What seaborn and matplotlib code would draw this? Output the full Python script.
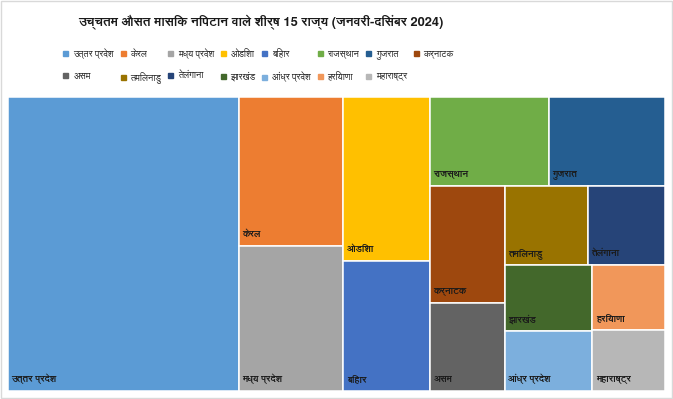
import matplotlib
matplotlib.use("Agg")
import matplotlib.pyplot as plt
import matplotlib.font_manager as fm
from matplotlib.ft2font import FT2Font
from matplotlib.patches import Rectangle
from matplotlib.lines import Line2D
import seaborn as sns

# ---- data ----
states = ['उत्तर प्रदेश', 'केरल', 'मध्य प्रदेश', 'ओडिशा', 'बिहार', 'राजस्थान', 'गुजरात',
          'कर्नाटक', 'असम', 'तमिलनाडु', 'तेलंगाना', 'झारखंड', 'आंध्र प्रदेश', 'हरियाणा', 'महाराष्ट्र']
disposal = [677.8, 155.0, 150.8, 142.1, 112.6, 105.3, 103.2,
            87.5, 66.0, 65.6, 61.3, 57.5, 51.9, 47.0, 44.3]
colors = ['#5B9BD5', '#ED7D31', '#A5A5A5', '#FFC000', '#4472C4', '#70AD47', '#255E91',
          '#9E480E', '#636363', '#997300', '#264478', '#43682B', '#7CAFDD', '#F1975A', '#B7B7B7']
title = 'उच्चतम औसत मासिक निपटान वाले शीर्ष 15 राज्य (जनवरी-दिसंबर 2024)'

# how many tiles go into each strip of the treemap
strip_sizes = [1, 2, 2, 2, 2, 2, 2, 1, 1]


def find_devanagari_fonts():
    found = []
    for f in fm.fontManager.ttflist:
        if f.name in found:
            continue
        try:
            cmap = FT2Font(f.fname).get_charmap()
        except Exception:
            continue
        if 0x0915 in cmap:
            found.append(f.name)
    return found


sns.set_theme(style="white")
deva = find_devanagari_fonts()
pick = [n for n in ['FreeSans', 'Akshar', 'FreeSerif'] if n in deva] or deva[:1]
plt.rcParams['font.family'] = pick[:1] + ['DejaVu Sans']


def layout(values, x, y, w, h, sizes):
    # strips go along the shorter side of what is left
    scale = w * h / sum(values)
    rects = []
    i = 0
    for n in sizes:
        group = values[i:i + n]
        area = sum(group) * scale
        if w >= h:
            sw = area / h
            yy = y
            for v in group:
                hh = v * scale / sw
                rects.append((x, yy, sw, hh))
                yy += hh
            x += sw
            w -= sw
        else:
            sh = area / w
            xx = x
            for v in group:
                ww = v * scale / sh
                rects.append((xx, y, ww, sh))
                xx += ww
            y += sh
            h -= sh
        i += n
    return rects


fig = plt.figure(figsize=(6.73, 3.99), dpi=100)
ax = fig.add_axes([8 / 673, (399 - 390.7) / 399, 657 / 673, 293.4 / 399])
W, H = 657.0, 293.4
ax.set_xlim(0, W)
ax.set_ylim(H, 0)
ax.axis('off')

rects = layout(disposal, 0, 0, W, H, strip_sizes)
for (x, y, w, h), name, c in zip(rects, states, colors):
    ax.bar(x, h, width=w, bottom=y, align='edge', color=c, edgecolor='white', linewidth=1.1)
    ax.text(x + 3.5, y + h - 11.5, name, fontsize=6.8, fontweight='bold', color='#1a1a1a',
            va='center', ha='left')

fig.text(261 / 673, 1 - 22 / 399, title, fontsize=9.3, fontweight='bold', ha='center', va='center',
         color='#1a1a1a')

# legend fills column by column, so interleave to read row by row
ncol = 8
order = [j + r * ncol for j in range(ncol) for r in range(2) if j + r * ncol < len(states)]
handles = [Line2D([], [], marker='s', linestyle='', markersize=3.6, color=colors[k]) for k in order]
fig.legend(handles, [states[k] for k in order], ncol=ncol, loc='center',
           bbox_to_anchor=(258 / 673, 1 - 65.5 / 399),
           frameon=False, fontsize=6.6, handlelength=0.7, handletextpad=0.5, columnspacing=0.6,
           labelspacing=1.4, borderpad=0)

fig.patches.append(Rectangle((0.001, 0.002), 0.997, 0.996, transform=fig.transFigure,
                             fill=False, edgecolor='#D9D9D9', linewidth=1))

fig.savefig('out.png', dpi=100)
